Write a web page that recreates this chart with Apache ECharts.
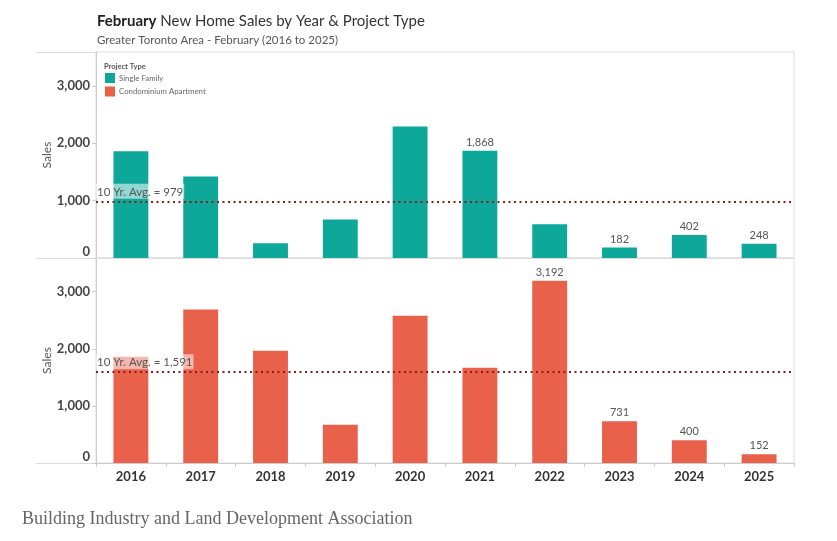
<!DOCTYPE html>
<html>
<head>
<meta charset="utf-8">
<script src="https://cdn.jsdelivr.net/npm/echarts@6/dist/echarts.min.js"></script>
<style>
  html, body { margin: 0; padding: 0; background: #fff; }
  #container { width: 837px; height: 541px; }
</style>
</head>
<body>
<div id="container"></div>
<script>
const years = ["2016", "2017", "2018", "2019", "2020", "2021", "2022", "2023", "2024", "2025"];
const singleFamily = [1862, 1421, 256, 673, 2290, 1868, 586, 182, 402, 248];
const condoApartment = [1860, 2690, 1965, 672, 2580, 1667, 3192, 731, 400, 152];
// years whose value is printed above the bar
const singleFamilyLabelled = ["2021", "2023", "2024", "2025"];
const condoLabelled = ["2022", "2023", "2024", "2025"];
const avgSingleFamily = 979;
const avgCondo = 1591;

const teal = "#0ea89b";
const coral = "#e9604b";
const fontFamily = "Lato, 'Open Sans', sans-serif";

const chart = echarts.init(document.getElementById("container"), null, { renderer: "canvas" });

function fmt(v) {
  return Number(v).toLocaleString("en-US");
}

function barData(values, labelled) {
  return values.map((v, i) => ({
    value: v,
    label: { show: labelled.indexOf(years[i]) !== -1 },
  }));
}

function avgLine(value) {
  return {
    silent: true,
    symbol: "none",
    lineStyle: { color: "#8c1c16", type: [2, 3.5], width: 2.2 },
    label: {
      position: "insideStartTop",
      formatter: "10 Yr. Avg. = " + fmt(value),
      color: "#555",
      fontFamily: fontFamily,
      fontSize: 11.5,
      backgroundColor: "rgba(255,255,255,0.55)",
      padding: [2, 1, 1, 1],
      distance: [0, 3],
    },
    data: [{ yAxis: value }],
  };
}

function yAxisFor(gridIndex) {
  return {
    type: "value",
    gridIndex: gridIndex,
    min: 0,
    max: 3590,
    interval: 1000,
    name: "Sales",
    nameLocation: "middle",
    nameGap: 43,
    nameMoveOverlap: false,
    nameTextStyle: { color: "#555", fontSize: 12, fontFamily: fontFamily },
    splitLine: { show: false },
    axisLine: { show: true, lineStyle: { color: "#ccc" } },
    axisTick: { show: true, length: 4, lineStyle: { color: "#ccc" } },
    axisLabel: {
      color: "#444",
      fontSize: 13,
      fontWeight: "bold",
      fontFamily: fontFamily,
      margin: 6,
      showMaxLabel: false,
      verticalAlignMinLabel: "bottom",
      formatter: (v) => fmt(v),
    },
  };
}

const option = {
  animation: false,
  backgroundColor: "#fff",
  title: [
    {
      text: "{b|February} New Home Sales by Year & Project Type",
      left: 97,
      top: 14,
      padding: 0,
      textStyle: {
        color: "#333",
        fontSize: 15,
        fontWeight: "normal",
        fontFamily: fontFamily,
        rich: { b: { fontWeight: "bold", color: "#222", fontSize: 15, fontFamily: fontFamily } },
      },
    },
    {
      text: "Greater Toronto Area - February (2016 to 2025)",
      left: 97,
      top: 34,
      padding: 0,
      textStyle: { color: "#555", fontSize: 11.5, fontWeight: "normal", fontFamily: fontFamily },
    },
    {
      text: "Project Type",
      left: 104,
      top: 63,
      padding: 0,
      textStyle: { color: "#555", fontSize: 7.5, fontWeight: "bold", fontFamily: fontFamily },
    },
    {
      text: "Building Industry and Land Development Association",
      left: 22,
      top: 510,
      padding: 0,
      textStyle: { color: "#666", fontSize: 18, fontWeight: "normal", fontFamily: "'Liberation Serif', serif" },
    },
  ],
  legend: {
    orient: "vertical",
    left: 105,
    top: 73,
    padding: 0,
    itemWidth: 10,
    itemHeight: 10,
    itemGap: 3.5,
    icon: "rect",
    textStyle: { color: "#666", fontSize: 7.8, fontFamily: fontFamily, padding: [0, 0, 0, -1] },
    data: ["Single Family", "Condominium Apartment"],
  },
  grid: [
    { left: 96, right: 43, top: 52, height: 206, show: true, borderColor: "#ddd", borderWidth: 1 },
    { left: 96, right: 43, top: 258, height: 205, show: true, borderColor: "#ddd", borderWidth: 1 },
  ],
  xAxis: [
    {
      type: "category",
      gridIndex: 0,
      data: years,
      axisLine: { show: true, lineStyle: { color: "#ddd" } },
      axisTick: { show: false },
      axisLabel: { show: false },
    },
    {
      type: "category",
      gridIndex: 1,
      data: years,
      axisLine: { show: true, lineStyle: { color: "#ccc" } },
      axisTick: { show: true, length: 4, lineStyle: { color: "#ccc" } },
      axisLabel: { color: "#333", fontSize: 13, fontWeight: "bold", fontFamily: fontFamily, margin: 7 },
    },
  ],
  yAxis: [yAxisFor(0), yAxisFor(1)],
  series: [
    {
      name: "Single Family",
      type: "bar",
      xAxisIndex: 0,
      yAxisIndex: 0,
      barWidth: "50%",
      itemStyle: { color: teal },
      label: {
        position: "top",
        distance: 3,
        color: "#555",
        fontSize: 11,
        fontFamily: fontFamily,
        formatter: (p) => fmt(p.value),
      },
      data: barData(singleFamily, singleFamilyLabelled),
      markLine: avgLine(avgSingleFamily),
    },
    {
      name: "Condominium Apartment",
      type: "bar",
      xAxisIndex: 1,
      yAxisIndex: 1,
      barWidth: "50%",
      itemStyle: { color: coral },
      label: {
        position: "top",
        distance: 3,
        color: "#555",
        fontSize: 11,
        fontFamily: fontFamily,
        formatter: (p) => fmt(p.value),
      },
      data: barData(condoApartment, condoLabelled),
      markLine: avgLine(avgCondo),
    },
  ],
  graphic: [
    // panel rules continue to the left of the value axis
    { type: "line", silent: true, shape: { x1: 36, y1: 52.5, x2: 96, y2: 52.5 }, style: { stroke: "#ddd", lineWidth: 1 } },
    { type: "line", silent: true, shape: { x1: 36, y1: 258.5, x2: 96, y2: 258.5 }, style: { stroke: "#ddd", lineWidth: 1 } },
    { type: "line", silent: true, shape: { x1: 36, y1: 463.5, x2: 96, y2: 463.5 }, style: { stroke: "#ddd", lineWidth: 1 } },
  ],
};

chart.setOption(option);
window.addEventListener("resize", chart.resize);
</script>
</body>
</html>
